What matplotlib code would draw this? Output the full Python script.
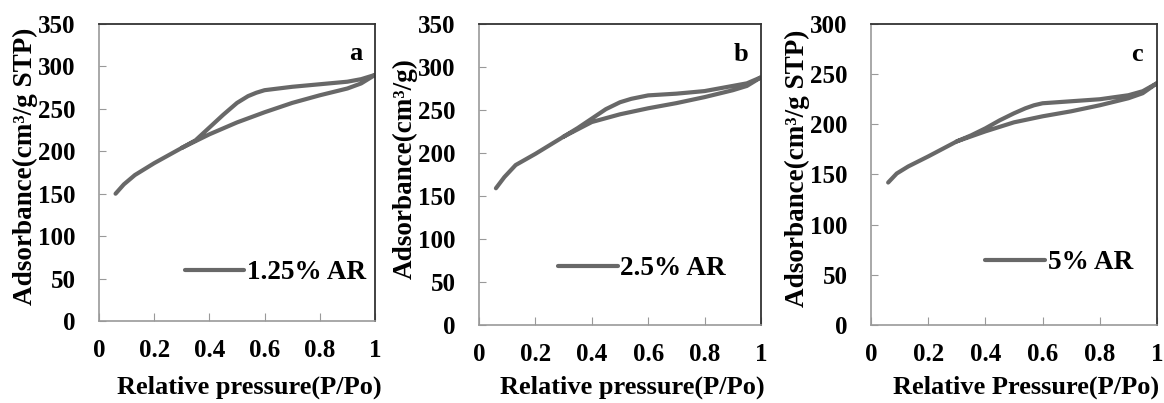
import matplotlib.pyplot as plt

plt.rcParams['font.family'] = ['Liberation Serif', 'DejaVu Serif']
plt.rcParams['font.weight'] = 'bold'

# adsorption branch (lower) and desorption branch (upper), P/Po
ads_x = [0.06, 0.09, 0.13, 0.2, 0.3, 0.4, 0.5, 0.6, 0.7, 0.8, 0.9, 0.95, 1.0]
des_x = [1.0, 0.95, 0.9, 0.8, 0.7, 0.65, 0.6, 0.57, 0.54, 0.5, 0.45, 0.4, 0.35, 0.3]

ads_a = [150, 161, 172, 186, 204, 220, 234, 246, 257, 266, 274, 280, 290]
des_a = [290, 285, 282, 279, 276, 274, 272, 269, 265, 257, 243, 228, 213, 204]

ads_b = [159, 172, 186, 199, 219, 236, 245, 252, 258, 265, 273, 278, 288]
des_b = [288, 281, 278, 272, 269, 268, 267, 265, 263, 259, 251, 240, 229, 219]

ads_c = [142, 151, 158, 168, 183, 193, 202, 208, 213, 219, 226, 231, 241]
des_c = [241, 233, 229, 225, 223, 222, 221, 219, 216, 211, 204, 196, 189, 183]

panels = [
    dict(ads=ads_a, des=des_a, label='1.25% AR', tag='a', ymax=350,
         ylabel='Adsorbance(cm³/g STP)', xlabel='Relative pressure(P/Po)'),
    dict(ads=ads_b, des=des_b, label='2.5% AR', tag='b', ymax=350,
         ylabel='Adsorbance(cm³/g)', xlabel='Relative pressure(P/Po)'),
    dict(ads=ads_c, des=des_c, label='5% AR', tag='c', ymax=300,
         ylabel='Adsorbance(cm³/g STP)', xlabel='Relative Pressure(P/Po)'),
]

W, H = 1164, 403
# axes boxes in pixels: left, right, top, bottom
boxes = [(99, 375, 24, 321), (479, 761, 24, 325), (871, 1157, 24, 325)]
ylabel_x = [25, 405, 797]
legend_pos = [(0.31, 0.12), (0.28, 0.145), (0.40, 0.165)]

fig = plt.figure(figsize=(W / 100, H / 100), dpi=100)

for p, (l, r, t, b), yx, lp in zip(panels, boxes, ylabel_x, legend_pos):
    ax = fig.add_axes([l / W, 1 - b / H, (r - l) / W, (b - t) / H])
    ax.plot(ads_x + des_x, p['ads'] + p['des'], color='#686868', lw=3,
            solid_capstyle='round', solid_joinstyle='round', label=p['label'])
    ax.set_xlim(0, 1)
    ax.set_ylim(0, p['ymax'])
    ax.set_xticks([0, 0.2, 0.4, 0.6, 0.8, 1])
    ax.set_xticklabels(['0', '0.2', '0.4', '0.6', '0.8', '1'])
    ax.set_yticks(range(0, p['ymax'] + 1, 50))
    ax.tick_params(axis='x', direction='in', length=6, color='#999999', pad=13, labelsize=18)
    ax.tick_params(axis='y', direction='in', length=5, color='#999999', pad=17, labelsize=18)
    for s in ['left', 'bottom']:
        ax.spines[s].set_color('#9a9a9a')
        ax.spines[s].set_linewidth(1.2)
    for s in ['top', 'right']:
        ax.spines[s].set_color('#333333')
        ax.spines[s].set_linewidth(1.3)
    ax.text(0.93, 0.9, p['tag'], transform=ax.transAxes, fontsize=19,
            fontweight='bold', ha='center', va='center')
    ax.legend(loc='lower left', bbox_to_anchor=lp, frameon=False, fontsize=19.5,
              handlelength=2.2, handletextpad=0.1, borderpad=0, borderaxespad=0)
    fig.text(yx / W, 1 - ((t + b) / 2 - 6) / H, p['ylabel'], rotation=90,
             ha='center', va='center', fontsize=19.5, fontweight='bold')
    fig.text(((l + r) / 2 + 12) / W, 1 - 387 / H, p['xlabel'],
             ha='center', va='center', fontsize=19, fontweight='bold')

fig.savefig('out.png', dpi=100)
